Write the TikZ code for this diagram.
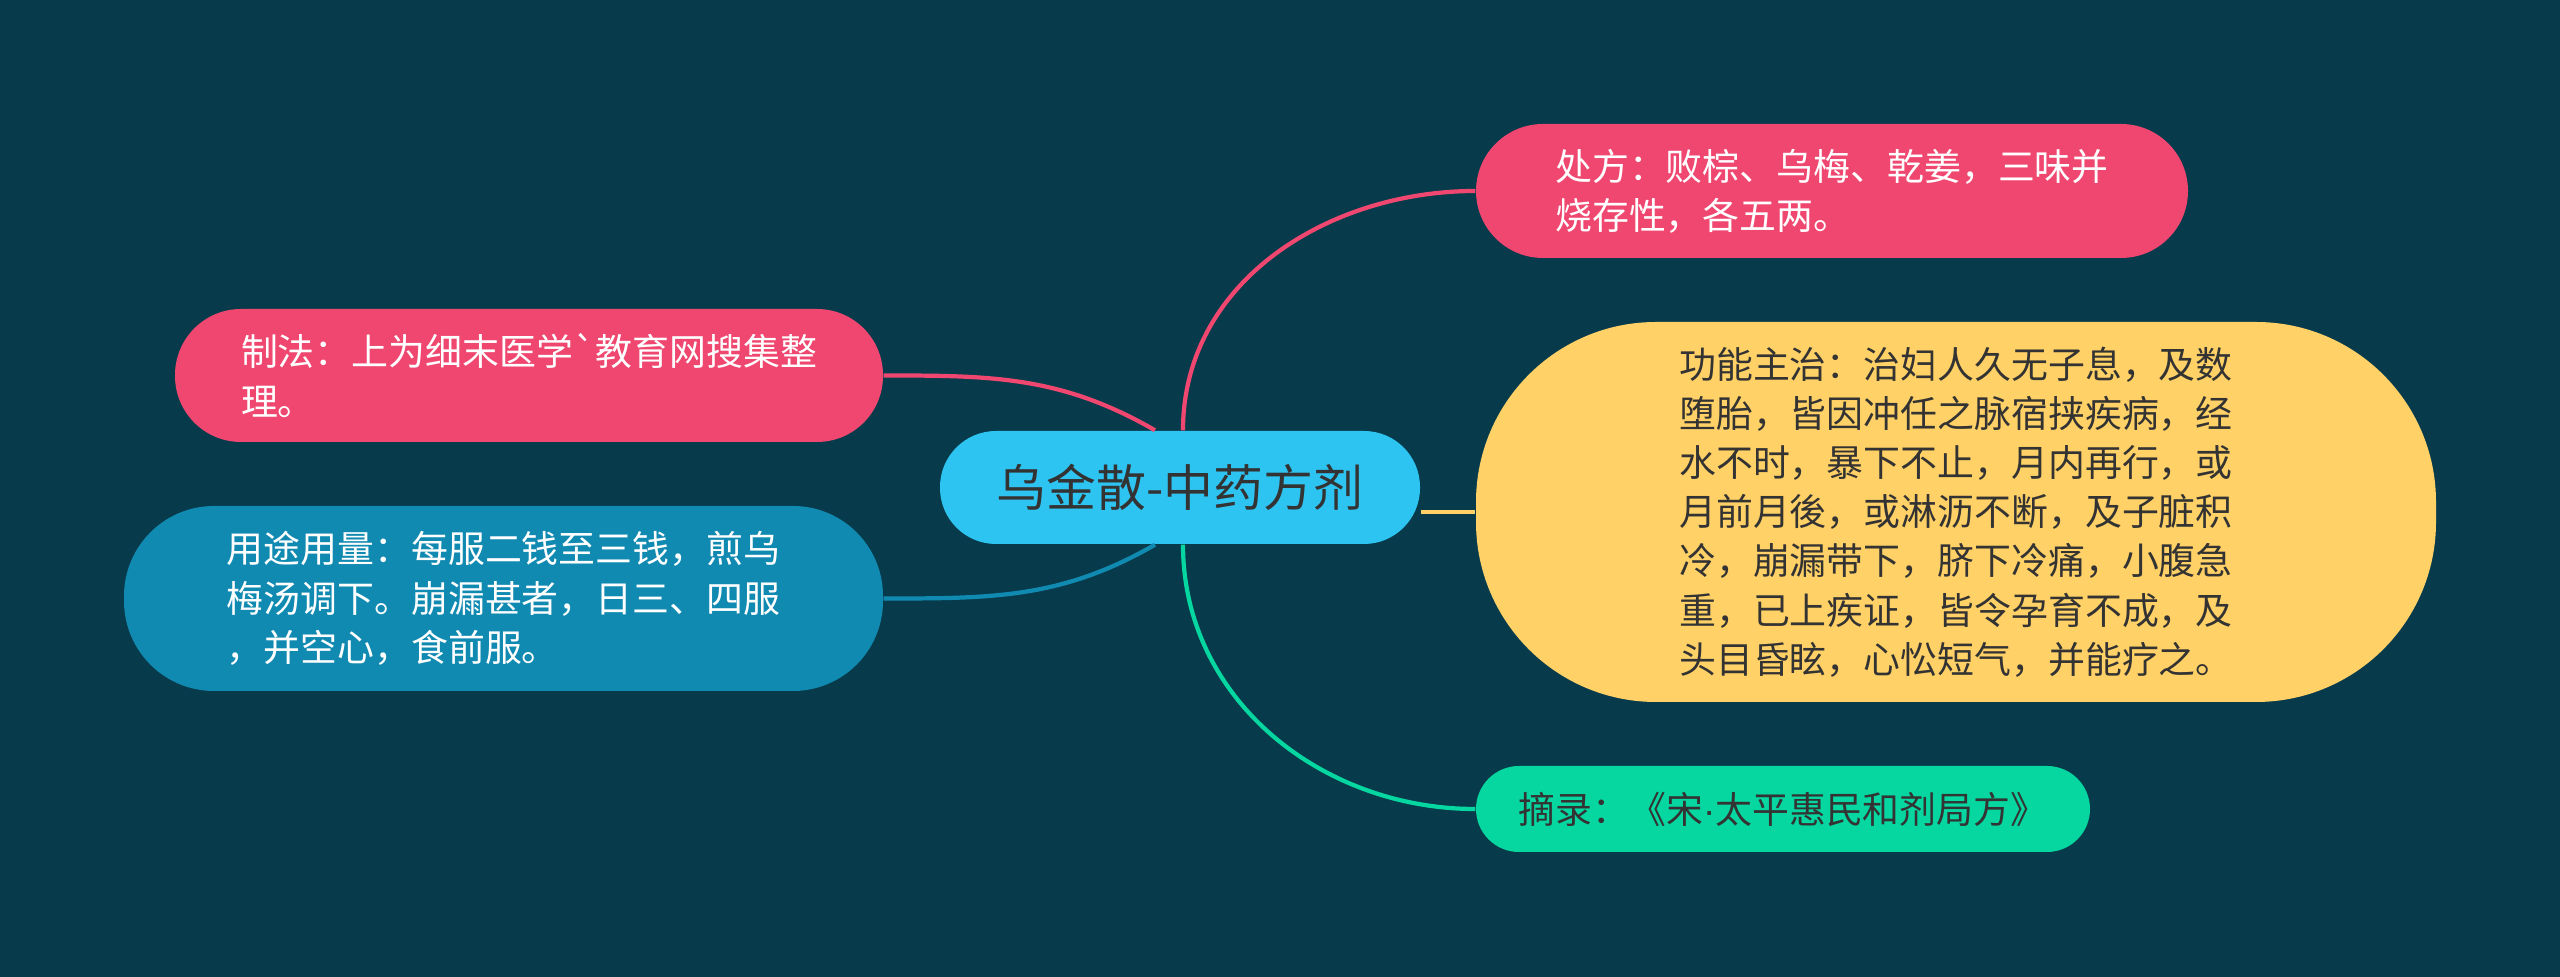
\documentclass[tikz,border=0pt]{standalone}
\usepackage{fontspec}
\setmainfont{Noto Sans CJK SC}[Ligatures=TeXOff]
\newfontfamily\latinfont{Liberation Sans}
\usepackage{xcolor}
\usetikzlibrary{positioning}
\definecolor{bgnavy}{HTML}{073B4C}
\definecolor{rose}{HTML}{EF476F}
\definecolor{sun}{HTML}{FFD166}
\definecolor{mint}{HTML}{06D6A0}
\definecolor{ocean}{HTML}{118AB2}
\definecolor{sky}{HTML}{2EC4F2}
\definecolor{ink}{HTML}{333333}

\begin{document}
\begin{tikzpicture}[
  leaf/.style={rectangle, inner sep=0pt, align=left, font=\fontsize{10.5pt}{14pt}\selectfont},
  branch/.style={line width=1.2pt}
]
  \fill[bgnavy] (0,0) rectangle (25.6,-9.77);
  \node[rectangle, fill=sky, text=ink, minimum width=4.8cm, minimum height=1.13cm, rounded corners=0.56cm, font=\fontsize{14.2pt}{17pt}\selectfont] (core) at (11.80,-4.875) {乌金散-中药方剂};
  \node[leaf, fill=rose, text=white, minimum width=7.12cm, minimum height=1.34cm, rounded corners=0.67cm] (recipe) at (18.32,-1.91) {处方：败棕、乌梅、乾姜，三味并\\烧存性，各五两。};
  \node[leaf, fill=sun, text=ink, minimum width=9.6cm, minimum height=3.8cm, rounded corners=1.8cm] (effect) at (19.56,-5.12) {功能主治：治妇人久无子息，及数\\堕胎，皆因冲任之脉宿挟疾病，经\\水不时，暴下不止，月内再行，或\\月前月後，或淋沥不断，及子脏积\\冷，崩漏带下，脐下冷痛，小腹急\\重，已上疾证，皆令孕育不成，及\\头目昏眩，心忪短气，并能疗之。};
  \node[leaf, fill=mint, text=ink, minimum width=6.14cm, minimum height=0.86cm, rounded corners=0.43cm] (source) at (17.83,-8.09) {摘录：《宋{\latinfont ·}太平惠民和剂局方》};
  \node[leaf, fill=rose, text=white, minimum width=7.08cm, minimum height=1.33cm, rounded corners=0.66cm] (making) at (5.29,-3.755) {制法：上为细末医学`教育网搜集整\\理。};
  \node[leaf, fill=ocean, text=white, minimum width=7.59cm, minimum height=1.85cm, rounded corners=0.9cm] (dosage) at (5.035,-5.985) {用途用量：每服二钱至三钱，煎乌\\梅汤调下。崩漏甚者，日三、四服\\，并空心，食前服。};
  \draw[branch, rose] ([xshift=0.03cm]core.north) to[out=90, in=180] (recipe.west);
  \draw[branch, sun] (core.east |- effect.west) -- (effect.west);
  \draw[branch, mint] ([xshift=0.03cm]core.south) to[out=-90, in=180] (source.west);
  \draw[branch, rose] ([xshift=-0.25cm]core.north) to[out=150, in=0] (making.east);
  \draw[branch, ocean] ([xshift=-0.25cm]core.south) to[out=210, in=0] (dosage.east);
\end{tikzpicture}
\end{document}
